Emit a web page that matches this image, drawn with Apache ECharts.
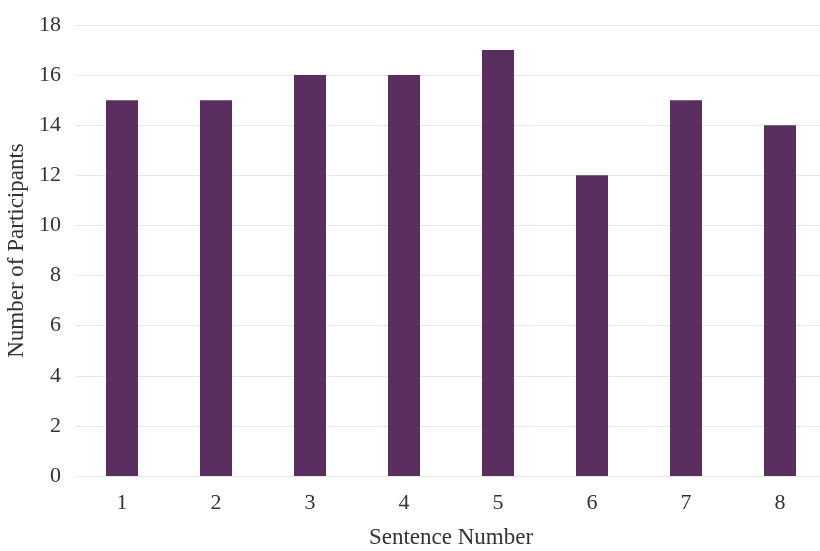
<!DOCTYPE html>
<html>
<head>
<meta charset="utf-8">
<script src="https://cdn.jsdelivr.net/npm/echarts@6/dist/echarts.min.js"></script>
<style>html,body{margin:0;padding:0;background:#fff;}#c{width:820px;height:551px;}</style>
</head>
<body>
<div id="c"></div>
<script>
const categories = ['1','2','3','4','5','6','7','8'];
const participants = [15, 15, 16, 16, 17, 12, 15, 14];
const yTicks = {min: 0, max: 18, interval: 2};

const chart = echarts.init(document.getElementById('c'));
const font = '"Liberation Serif", "Times New Roman", serif';
chart.setOption({
  animation: false,
  backgroundColor: '#ffffff',
  grid: {left: 75, top: 25, width: 752, height: 451, containLabel: false, outerBoundsMode: 'none'},
  xAxis: {
    type: 'category',
    data: categories,
    name: 'Sentence Number',
    nameLocation: 'middle',
    nameGap: 50,
    nameTextStyle: {fontFamily: font, fontSize: 23, color: '#333'},
    axisLine: {show: false},
    axisTick: {show: false},
    axisLabel: {fontFamily: font, fontSize: 22, color: '#333', margin: 16}
  },
  yAxis: {
    type: 'value',
    min: yTicks.min, max: yTicks.max, interval: yTicks.interval,
    name: 'Number of Participants',
    nameLocation: 'middle',
    nameGap: 44,
    nameTextStyle: {fontFamily: font, fontSize: 23, color: '#333'},
    axisLine: {show: false},
    axisTick: {show: false},
    axisLabel: {fontFamily: font, fontSize: 22, color: '#333', margin: 14},
    splitLine: {lineStyle: {color: '#e8e8e8', width: 1}}
  },
  series: [{
    type: 'bar',
    data: participants,
    barWidth: 32,
    itemStyle: {color: '#5a2f5f'}
  }]
});
</script>
</body>
</html>
